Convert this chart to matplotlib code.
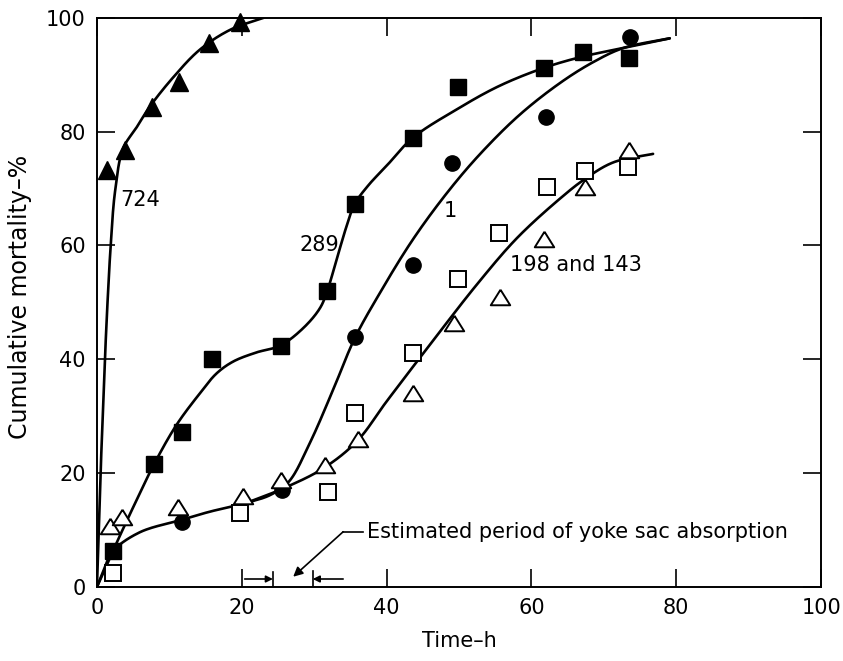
import numpy as np
import matplotlib
matplotlib.use("Agg")
import matplotlib.pyplot as plt

plt.rcParams['font.family'] = ['DejaVu Sans']

# ---------------- data ----------------
# Fish group 724 (filled triangles)
t724_x = [1.4, 3.9, 7.6, 11.3, 15.5, 19.8]
t724_y = [73.3, 76.8, 84.4, 88.7, 95.6, 99.3]
# Fish group 289 (filled squares)
s289_x = [2.2, 7.9, 11.7, 15.9, 25.4, 31.8, 35.6, 43.6, 49.9, 61.7, 67.1, 73.5]
s289_y = [6.3, 21.6, 27.2, 40.1, 42.4, 52.0, 67.3, 78.9, 87.9, 91.2, 94.0, 93.0]
# Fish group 1 (filled circles)
c1_x = [11.7, 25.6, 35.6, 43.6, 49.0, 62.0, 73.6]
c1_y = [11.4, 17.0, 43.9, 56.6, 74.5, 82.6, 96.7]
# Fish group 198 (open squares)
s198_x = [2.2, 19.8, 31.9, 35.6, 43.6, 49.9, 55.5, 62.2, 67.4, 73.3]
s198_y = [2.5, 13.0, 16.7, 30.6, 41.1, 54.1, 62.2, 70.3, 73.1, 73.8]
# Fish group 143 (open triangles)
t143_x = [1.8, 3.5, 11.2, 20.2, 25.4, 31.5, 36.0, 43.6, 49.3, 55.7, 61.7, 67.4, 73.5]
t143_y = [10.7, 12.3, 14.1, 16.0, 18.8, 21.4, 26.0, 34.1, 46.4, 51.0, 61.2, 70.3, 76.8]

# Hand-drawn fitted curves
curve724_x = [0, 0.25, 0.5, 0.8, 1.1, 1.5, 1.9, 2.5, 3.6, 5.5, 7.3, 10.5, 14.2, 18.4, 23.0]
curve724_y = [0, 10, 20, 30, 40, 51, 60, 69.5, 77, 80.8, 84.4, 89.5, 94.4, 97.9, 100]
curve289_x = [0, 1.0, 2.2, 5.0, 7.9, 11.0, 14.2, 16.5, 18.8, 22.0, 25.3, 28.5, 30.8, 31.8,
              33.2, 34.5, 35.6, 37.5, 40.0, 43.6, 49.8, 55.5, 61.7, 67.1, 72.7, 79.1]
curve289_y = [0, 2.8, 6.3, 14.0, 21.6, 28.5, 34.0, 37.5, 39.6, 41.2, 42.4, 45.5, 49.0, 52.0,
              58.0, 63.5, 67.3, 70.6, 74.0, 78.9, 84.0, 88.0, 91.2, 93.2, 94.7, 96.4]
curve1_x = [0, 1.0, 2.2, 5.9, 11.7, 15.5, 20.7, 24.0, 26.5, 29.4, 32.6, 35.6, 39.0, 43.6,
            48.5, 53.0, 58.4, 64.0, 68.5, 72.7, 79.1]
curve1_y = [0, 3.2, 6.3, 9.6, 11.8, 13.2, 14.8, 16.2, 18.5, 25.3, 34.6, 43.7, 51.5, 61.0,
            69.5, 76.2, 83.0, 88.6, 92.2, 94.7, 96.4]
curve198_x = [20.7, 25.7, 31.2, 35.9, 40.0, 46.0, 52.5, 58.0, 64.0, 67.4, 71.3, 76.8]
curve198_y = [14.8, 17.3, 20.8, 25.6, 32.6, 42.6, 53.2, 61.3, 68.3, 71.7, 74.6, 76.1]

XMAX, YMAX = 100, 100


def catmull_rom(xs, ys, n=24, sx=7.24, sy=5.69):
    """Centripetal Catmull-Rom through the read points (for a smooth pen line)."""
    P = np.column_stack([np.asarray(xs, float) * sx, np.asarray(ys, float) * sy])
    P = np.vstack([2 * P[0] - P[1], P, 2 * P[-1] - P[-2]])
    out = []
    for i in range(1, len(P) - 2):
        p0, p1, p2, p3 = P[i - 1], P[i], P[i + 1], P[i + 2]
        t0 = 0.0
        t1 = t0 + np.linalg.norm(p1 - p0) ** 0.5 + 1e-9
        t2 = t1 + np.linalg.norm(p2 - p1) ** 0.5 + 1e-9
        t3 = t2 + np.linalg.norm(p3 - p2) ** 0.5 + 1e-9
        t = np.linspace(t1, t2, n)[:, None]
        a1 = (t1 - t) / (t1 - t0) * p0 + (t - t0) / (t1 - t0) * p1
        a2 = (t2 - t) / (t2 - t1) * p1 + (t - t1) / (t2 - t1) * p2
        a3 = (t3 - t) / (t3 - t2) * p2 + (t - t2) / (t3 - t2) * p3
        b1 = (t2 - t) / (t2 - t0) * a1 + (t - t0) / (t2 - t0) * a2
        b2 = (t3 - t) / (t3 - t1) * a2 + (t - t1) / (t3 - t1) * a3
        c = (t2 - t) / (t2 - t1) * b1 + (t - t1) / (t2 - t1) * b2
        out.append(c if i == 1 else c[1:])
    C = np.vstack(out)
    return C[:, 0] / sx, C[:, 1] / sy


fig = plt.figure(figsize=(8.43, 6.61), dpi=100)
ax = fig.add_axes([0.115, 0.112, 0.859, 0.861])
ax.set_xlim(0, XMAX)
ax.set_ylim(0, YMAX)

lw = 1.9
for cx, cy in [(curve724_x, curve724_y), (curve289_x, curve289_y),
               (curve1_x, curve1_y), (curve198_x, curve198_y)]:
    sx_, sy_ = catmull_rom(cx, cy)
    ax.plot(sx_, sy_, color='black', lw=lw, solid_capstyle='round', clip_on=True, zorder=2)

ms = 11
wide_tri = [(0, 0.8), (-1, -0.8), (1, -0.8), (0, 0.8)]
ax.plot(t724_x, t724_y, '^', color='black', ms=13, zorder=3, clip_on=False)
ax.plot(s289_x, s289_y, 's', color='black', ms=ms, zorder=3)
ax.plot(c1_x, c1_y, 'o', color='black', ms=ms, zorder=3)
ax.plot(s198_x, s198_y, 's', mfc='white', mec='black', mew=1.4, ms=ms, zorder=3)
ax.plot(t143_x, t143_y, marker=wide_tri, ls='none', mfc='white', mec='black',
        mew=1.4, ms=14, zorder=3)

# curve labels
fs = 15
ax.text(3.2, 68, '724', fontsize=fs, ha='left', va='center')
ax.text(33.4, 60, '289', fontsize=fs, ha='right', va='center')
ax.text(48.8, 66, '1', fontsize=fs, ha='center', va='center')
ax.text(57.0, 56.6, '198 and 143', fontsize=fs, ha='left', va='center')

# yolk sac absorption annotation
ax.annotate('', xy=(27.1, 1.8), xytext=(34.0, 9.7),
            arrowprops=dict(arrowstyle='-|>', color='black', lw=1.2,
                            mutation_scale=14, shrinkA=0, shrinkB=0))
ax.plot([34.0, 36.7], [9.7, 9.7], color='black', lw=1.2)
ax.text(37.3, 9.7, 'Estimated period of yoke sac absorption', fontsize=fs,
        ha='left', va='center')
ax.plot([24.3, 24.3], [0, 2.6], color='black', lw=1.2)
ax.plot([29.8, 29.8], [0, 2.8], color='black', lw=1.2)
ax.annotate('', xy=(24.3, 1.4), xytext=(20.4, 1.4),
            arrowprops=dict(arrowstyle='-|>', color='black', lw=1.2,
                            mutation_scale=10, shrinkA=0, shrinkB=0))
ax.annotate('', xy=(29.8, 1.4), xytext=(34.0, 1.4),
            arrowprops=dict(arrowstyle='-|>', color='black', lw=1.2,
                            mutation_scale=10, shrinkA=0, shrinkB=0))

xticks = [0, 20, 40, 60, 80, 100]
yticks = [0, 20, 40, 60, 80, 100]
ax.set_xticks(xticks)
ax.set_yticks(yticks)
ax.tick_params(direction='in', length=13, width=1.2, labelsize=fs, pad=8,
               top=True, right=True)
for s in ax.spines.values():
    s.set_linewidth(1.4)

ax.set_xlabel('Time\u2013h', fontsize=fs)
ax.set_ylabel('Cumulative mortality\u2013%', fontsize=17)
ax.xaxis.set_label_coords(0.5, -0.078)
ax.yaxis.set_label_coords(-0.089, 0.51)

fig.savefig('out.png', dpi=100)
